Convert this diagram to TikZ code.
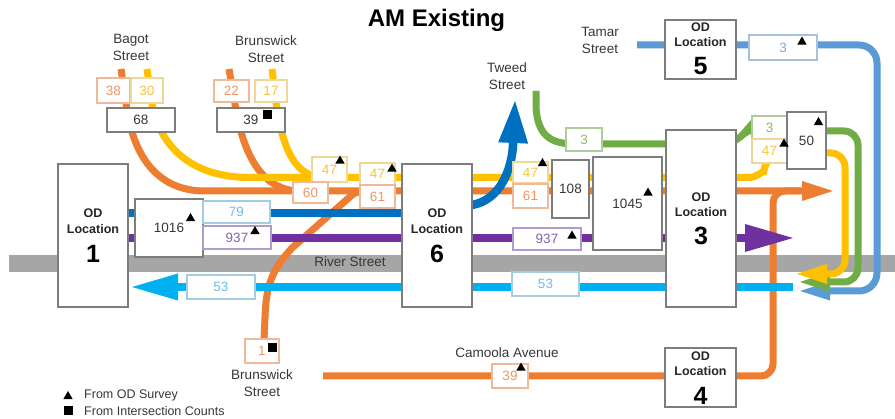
\documentclass[tikz,border=0pt]{standalone}
\usepackage{fontspec}
\setmainfont{Liberation Sans}
\usetikzlibrary{arrows.meta,shapes.geometric}
\definecolor{cOr}{RGB}{237,125,49}
\definecolor{cYe}{RGB}{255,192,0}
\definecolor{cDb}{RGB}{0,112,192}
\definecolor{cPu}{RGB}{112,48,160}
\definecolor{cLb}{RGB}{0,176,240}
\definecolor{cMb}{RGB}{91,155,213}
\definecolor{cGr}{RGB}{112,173,71}
\definecolor{cRoad}{RGB}{166,166,166}
\definecolor{cBox}{RGB}{125,125,125}
\definecolor{cTxt}{RGB}{55,55,55}
\definecolor{tOr}{RGB}{240,150,100}
\definecolor{tYe}{RGB}{250,195,60}
\definecolor{tLb}{RGB}{110,190,230}
\definecolor{tPu}{RGB}{130,100,175}
\definecolor{tGr}{RGB}{140,190,100}
\definecolor{tMb}{RGB}{120,170,215}
\definecolor{bOr}{RGB}{240,185,155}
\definecolor{bYe}{RGB}{240,215,150}
\definecolor{bLb}{RGB}{165,205,225}
\definecolor{bPu}{RGB}{175,155,205}
\definecolor{bGr}{RGB}{175,205,155}
\definecolor{bMb}{RGB}{165,195,225}
\tikzset{
  flow/.style={line width=7pt},
  wflow/.style={line width=8.5pt},
  odb/.style={draw=cBox, fill=white, line width=1.3pt, inner sep=0pt},
  cb/.style={draw=cBox, fill=white, line width=1.2pt, inner sep=0pt, text=cTxt, font=\fontsize{13.5}{14}\selectfont},
  cbOr/.style={cb, draw=bOr, text=tOr},
  cbYe/.style={cb, draw=bYe, text=tYe},
  cbLb/.style={cb, draw=bLb, text=tLb},
  cbPu/.style={cb, draw=bPu, text=tPu},
  cbGr/.style={cb, draw=bGr, text=tGr},
  cbMb/.style={cb, draw=bMb, text=tMb},
  odt/.style={font=\bfseries\fontsize{12.5}{13}\selectfont, inner sep=0pt, text=black!85},
  odn/.style={font=\bfseries\fontsize{25}{25}\selectfont, inner sep=0pt, text=black},
  lbl/.style={font=\fontsize{13.5}{17}\selectfont, align=center, inner sep=0pt, text=cTxt},
  lgd/.style={font=\fontsize{12.5}{13}\selectfont, inner sep=0pt, text=cTxt},
  tri/.style={regular polygon, regular polygon sides=3, fill=black, inner sep=0pt, minimum size=11pt},
  sq/.style={rectangle, fill=black, inner sep=0pt, minimum size=9pt},
}
\newcommand\cbx[7]{\node[#6, minimum width={#4-#2}, minimum height={#5-#3}] (#1) at ({(#2+#4)/2},{(#3+#5)/2}) {#7};}
\newcommand\odtxt[6]{\node[odt] (#1a) at (#2,#3) {OD}; \node[odt] (#1b) at (#2,#4) {Location}; \node[odn] (#1c) at (#2,#5) {#6};}
\begin{document}
\begin{tikzpicture}[x=1pt,y=-1pt]
\useasboundingbox (0,0) rectangle (895,419);
\fill[white] (0,0) rectangle (895,419);
% road
\fill[cRoad] (9,255) rectangle (895,272);
% orange from Camoola Avenue
\draw[flow,cOr,rounded corners=12pt] (323,376) -- (773,376) -- (773,191) -- (800,191);
% orange flows
\draw[flow,cOr,-{Triangle[length=31pt,width=20pt,line width=0pt]}] (121,69) -- (127,110) .. controls (135,160) and (160,191) .. (205,191) -- (833,191);
\draw[flow,cOr] (229,69) -- (236,110) .. controls (245,160) and (265,191) .. (300,191);
\draw[flow,cOr] (264,340) -- (265,318) .. controls (266,285) and (272,270) .. (292,248) -- (352,195) .. controls (356,192) and (360,191) .. (368,191);
% yellow flows
\draw[flow,cYe] (147,69) -- (153,110) .. controls (165,155) and (200,177.5) .. (250,177.5) -- (700,177.5);
\draw[flow,cYe] (272,69) -- (277,110) .. controls (284,150) and (295,177.5) .. (325,177.5);
% dark blue
\draw[wflow,cDb] (128,213) -- (420,213);
\draw[wflow,cDb,-{Triangle[length=42pt,width=30pt,line width=0pt]}] (450,207) -- (472,205) .. controls (500,200) and (512,170) .. (515,101);
% purple and light blue
\draw[wflow,cPu,-{Triangle[length=48pt,width=28pt,line width=0pt]}] (128,238) -- (793,238);
\draw[wflow,cLb,-{Triangle[length=46pt,width=27pt,line width=0pt]}] (793,287) -- (132,287);
% Tamar blue
\draw[flow,cMb,rounded corners=18pt,-{Triangle[length=30pt,width=19pt,line width=0pt]}] (637,45) -- (877,45) -- (877,291) -- (800,291);
% green
\draw[flow,cGr] (536,91) -- (536,108) .. controls (538,135) and (550,144) .. (575,144) -- (700,144);
\draw[flow,cGr,rounded corners=14pt,-{Triangle[length=30pt,width=20pt,line width=0pt]}] (730,144) -- (736,144) .. controls (742,136) and (748,131) .. (762,131) -- (858,131) -- (858,282) -- (800,282);
% yellow right
\draw[flow,cYe,rounded corners=14pt,-{Triangle[length=30pt,width=20pt,line width=0pt]}] (730,177.5) -- (736,177.5) .. controls (756,177.5) and (764,170) .. (766,158) -- (772,153) -- (845,153) -- (845,274) -- (797,274);
% OD boxes
\cbx{od1}{58}{164}{128}{307}{odb}{}
\cbx{od6}{402}{164}{472}{307}{odb}{}
\cbx{od3}{666}{130}{736}{307}{odb}{}
\cbx{od5}{665}{20}{736}{79}{odb}{}
\cbx{od4}{665}{348}{736}{407}{odb}{}
\odtxt{t1}{93}{213}{229.5}{253.5}{1}
\odtxt{t6}{437}{213}{229.5}{253.5}{6}
\odtxt{t3}{701}{197}{212.5}{236}{3}
\odtxt{t5}{700.5}{27}{42.5}{66}{5}
\odtxt{t4}{700.5}{356}{371.5}{395.5}{4}
% count boxes
\cbx{n38}{97}{78}{130}{103}{cbOr}{38}
\cbx{n30}{131}{78}{163}{103}{cbYe}{30}
\cbx{n68}{107}{108}{175}{132}{cb}{68}
\cbx{n22}{214}{80}{249}{102}{cbOr}{22}
\cbx{n17}{255}{80}{287}{102}{cbYe}{17}
\cbx{n39}{217}{108}{285}{132}{cb}{39}
\cbx{n47a}{312}{157}{347}{182}{cbYe}{47}
\cbx{n60}{293}{182}{328}{203}{cbOr}{60}
\cbx{n47b}{360}{163}{395}{185}{cbYe}{47}
\cbx{n61a}{360}{185}{395}{208}{cbOr}{61}
\cbx{n1016}{135}{199}{203}{257}{cb}{1016}
\cbx{n79}{203}{201}{270}{223}{cbLb}{79}
\cbx{n937a}{203}{226}{271}{249}{cbPu}{937}
\cbx{n53a}{187}{275}{255}{299}{cbLb}{53}
\cbx{n47c}{513}{162}{548}{183}{cbYe}{47}
\cbx{n61b}{513}{184}{548}{208}{cbOr}{61}
\cbx{n108}{552}{160}{589}{218}{cb}{108}
\cbx{n1045}{593}{157}{662}{250}{cb}{1045}
\cbx{ng3a}{566}{128}{602}{151}{cbGr}{3}
\cbx{n937b}{513}{228}{581}{250}{cbPu}{937}
\cbx{n53b}{512}{272}{579}{296}{cbLb}{53}
\cbx{nb3}{749}{35}{817}{60}{cbMb}{3}
\cbx{ng3b}{752}{116}{787}{139}{cbGr}{3}
\cbx{n47d}{752}{139}{787}{163}{cbYe}{47}
\cbx{n50}{787}{112}{826}{169}{cb}{50}
\cbx{n1b}{245}{339}{279}{363}{cbOr}{1}
\cbx{n39c}{492}{364}{528}{388}{cbOr}{39}
% markers
\node[tri] (m1016) at (190.5,218.5) {};
\node[tri] (m937a) at (255,231.5) {};
\node[tri] (m47a) at (340,161) {};
\node[tri] (m47b) at (392,169) {};
\node[sq] (m39) at (267,115) {};
\node[tri] (m47c) at (542.5,163.5) {};
\node[tri] (m1045) at (648,193) {};
\node[tri] (m937b) at (572,236) {};
\node[tri] (mb3) at (802,42) {};
\node[tri] (m50) at (818.5,122.5) {};
\node[tri] (m47d) at (784,144) {};
\node[sq] (m1b) at (272.5,348) {};
\node[tri] (m39c) at (521,368) {};
% labels
\node[font=\bfseries\fontsize{24}{24}\selectfont, anchor=base, inner sep=0pt] (title) at (436.5,27) {AM Existing};
\node[lbl] (lBagot) at (131,47) {Bagot\\Street};
\node[lbl] (lBrT) at (266,49.5) {Brunswick\\Street};
\node[lbl] (lTweed) at (507,76) {Tweed\\Street};
\node[lbl] (lTamar) at (600,40) {Tamar\\Street};
\node[lbl, anchor=base] (lRiver) at (350,267) {River Street};
\node[lbl, anchor=base] (lCam) at (507,358) {Camoola Avenue};
\node[lbl] (lBrB) at (262,383.5) {Brunswick\\Street};
% legend
\node[tri] (lgT) at (68,396.5) {};
\node[sq] (lgS) at (68.5,411) {};
\node[lgd, anchor=west] (lgTt) at (84,395.5) {From OD Survey};
\node[lgd, anchor=west] (lgSt) at (84,411) {From Intersection Counts};
\end{tikzpicture}
\end{document}
